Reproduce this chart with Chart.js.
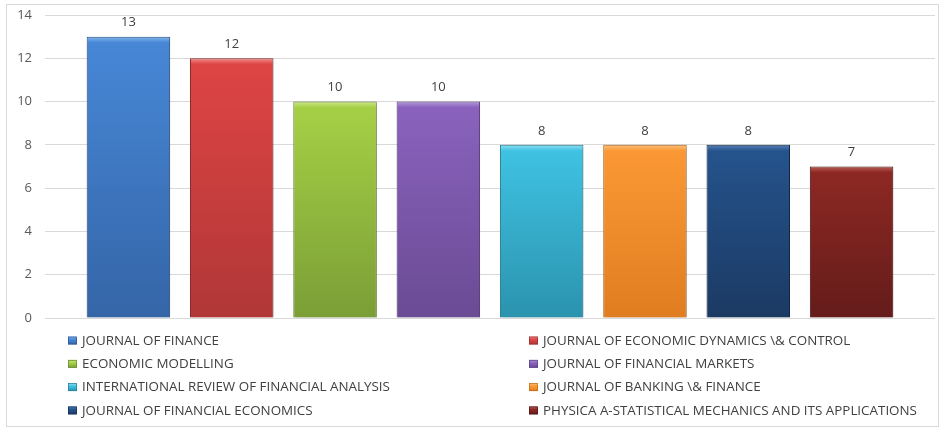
<!DOCTYPE html>
<html>
<head>
<meta charset="utf-8">
<script src="https://cdn.jsdelivr.net/npm/chart.js@4/dist/chart.umd.min.js"></script>
<style>
  html, body { margin: 0; padding: 0; background: #ffffff; }
  #wrap { position: absolute; left: 0; top: 0; width: 947px; height: 431px; }
  #frame { position: absolute; left: 6px; top: 4px; width: 933px; height: 423px; border: 1px solid #d9d9d9; box-sizing: border-box; pointer-events: none; }
</style>
</head>
<body>
<div id="wrap">
  <canvas id="c" width="947" height="431"></canvas>
  <div id="frame"></div>
</div>
<script>
const journals = [
  "JOURNAL OF FINANCE",
  "JOURNAL OF ECONOMIC DYNAMICS \\& CONTROL",
  "ECONOMIC MODELLING",
  "JOURNAL OF FINANCIAL MARKETS",
  "INTERNATIONAL REVIEW OF FINANCIAL ANALYSIS",
  "JOURNAL OF BANKING \\& FINANCE",
  "JOURNAL OF FINANCIAL ECONOMICS",
  "PHYSICA A-STATISTICAL MECHANICS AND ITS APPLICATIONS"
];
const counts = [13, 12, 10, 10, 8, 8, 8, 7];
const yTicks = [0, 2, 4, 6, 8, 10, 12, 14];

const lightColors  = ["#86b6ee", "#f28a8a", "#cbe789", "#b298da", "#8fdff2", "#fdc07c", "#5882b8", "#b85f5a"];
const topColors    = ["#4787d6", "#de4444", "#a5d045", "#8a62bd", "#3fc2e2", "#fb9835", "#25538c", "#8d2823"];
const bottomColors = ["#3465a7", "#b13737", "#7b9e36", "#6a4b94", "#2b93ae", "#e07d20", "#1b3a63", "#641c1a"];
const edgeColors   = ["#2c5590", "#962e2e", "#67862c", "#5a3f80", "#247d94", "#bf6a1a", "#152e50", "#521615"];

const FONT = "'Open Sans', 'Liberation Sans', sans-serif";

function makeGrad(g, y0, y1, i) {
  const grad = g.createLinearGradient(0, y0, 0, y1);
  const h = Math.max(1, y1 - y0);
  grad.addColorStop(0, lightColors[i]);
  grad.addColorStop(Math.min(0.4, 6 / h), topColors[i]);
  grad.addColorStop(1, bottomColors[i]);
  return grad;
}

const shadowPlugin = {
  id: 'shadow',
  beforeDatasetsDraw(chart) {
    const g = chart.ctx;
    g.save();
    g.shadowColor = 'rgba(0,0,0,0.25)';
    g.shadowBlur = 4;
    g.shadowOffsetX = 1;
    g.shadowOffsetY = 1;
  },
  afterDatasetsDraw(chart) {
    chart.ctx.restore();
  }
};

const valuePlugin = {
  id: 'values',
  afterDatasetsDraw(chart) {
    const g = chart.ctx;
    g.save();
    g.font = "13px " + FONT;
    g.fillStyle = '#404040';
    g.textAlign = 'center';
    g.textBaseline = 'middle';
    chart.data.datasets.forEach((ds, i) => {
      const meta = chart.getDatasetMeta(i);
      meta.data.forEach((el, j) => {
        g.fillText(String(ds.data[j]), el.x, el.y - 14);
      });
    });
    g.restore();
  }
};

const legendPlugin = {
  id: 'gridLegend',
  afterDraw(chart) {
    const g = chart.ctx;
    g.save();
    g.font = "13.4px " + FONT;
    g.textBaseline = 'middle';
    g.textAlign = 'left';
    chart.data.datasets.forEach((ds, i) => {
      const col = i % 2, row = Math.floor(i / 2);
      const bx = col === 0 ? 68 : 529;
      const cy = 340.5 + row * 23.3;
      g.fillStyle = makeGrad(g, cy - 4, cy + 4, i);
      g.fillRect(bx, cy - 4, 9, 8);
      g.strokeStyle = edgeColors[i];
      g.lineWidth = 0.7;
      g.strokeRect(bx + 0.5, cy - 3.5, 8, 7);
      g.fillStyle = '#404040';
      g.fillText(ds.label, bx + 14, cy + 0.5);
    });
    g.restore();
  }
};

const datasets = journals.map((name, i) => ({
  label: name,
  data: [counts[i]],
  backgroundColor: (ctx) => {
    const chart = ctx.chart;
    if (!chart.chartArea || !chart.scales.y) return topColors[i];
    const y0 = chart.scales.y.getPixelForValue(ctx.raw);
    const y1 = chart.scales.y.getPixelForValue(0);
    return makeGrad(chart.ctx, y0, y1, i);
  },
  borderColor: edgeColors[i],
  borderWidth: 1,
  categoryPercentage: 0.9286,
  barPercentage: 0.808
}));

new Chart(document.getElementById('c'), {
  type: 'bar',
  data: { labels: [''], datasets },
  plugins: [shadowPlugin, valuePlugin, legendPlugin],
  options: {
    responsive: false,
    animation: false,
    devicePixelRatio: 1,
    layout: { padding: { left: 0, right: 12, top: 15, bottom: 113 } },
    plugins: { legend: { display: false }, tooltip: { enabled: false } },
    scales: {
      x: { display: false, grid: { display: false } },
      y: {
        min: 0, max: 14,
        afterFit(scale) {
          scale.width = 45;
          scale.paddingTop = 0;
          scale.paddingBottom = 0;
        },
        afterBuildTicks(scale) { scale.ticks = yTicks.map(v => ({ value: v })); },
        border: { display: false },
        grid: { color: '#d9d9d9', drawTicks: false, lineWidth: 1 },
        ticks: { color: '#595959', font: { size: 13, family: FONT }, padding: 13 }
      }
    }
  }
});
</script>
</body>
</html>
